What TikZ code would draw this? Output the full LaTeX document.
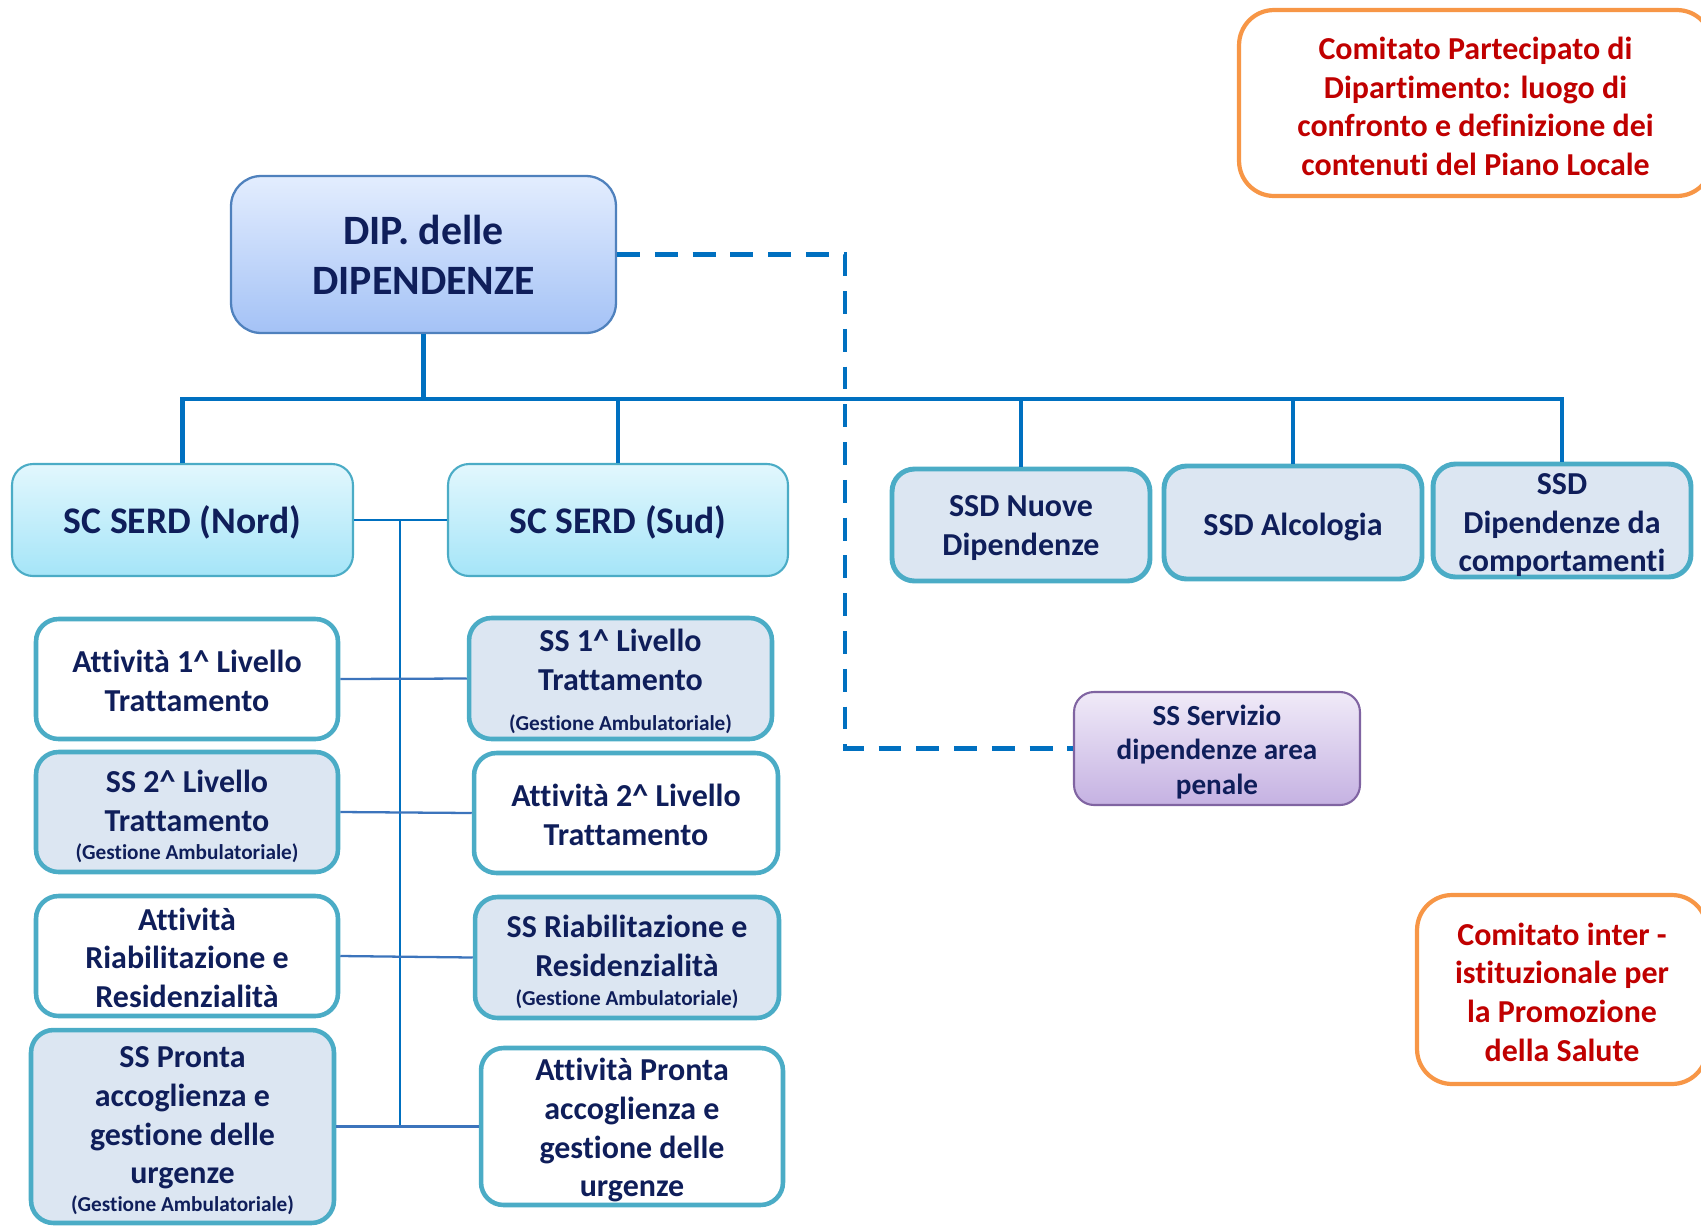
\documentclass[tikz,border=0pt]{standalone}
\usepackage{fontspec}
\setmainfont{Carlito}[Ligatures=NoCommon]
\usetikzlibrary{calc}

\definecolor{navy}{HTML}{0F1E5A}
\definecolor{darkred}{HTML}{C00000}
\definecolor{aqua}{HTML}{4BACC6}
\definecolor{ssfill}{HTML}{DCE6F2}
\definecolor{dipedge}{HTML}{4F81BD}
\definecolor{diptop}{HTML}{E3EDFE}
\definecolor{dipbot}{HTML}{A4C2F6}
\definecolor{serdtop}{HTML}{E2F7FD}
\definecolor{serdbot}{HTML}{A5E5F8}
\definecolor{pentop}{HTML}{F0EAF8}
\definecolor{penbot}{HTML}{C5B2E2}
\definecolor{penedge}{HTML}{8064A2}
\definecolor{orng}{HTML}{F79646}
\definecolor{trunkblue}{HTML}{0070C0}
\definecolor{linkblue}{HTML}{3C74BC}

\newcommand\fsz[2]{\fontsize{#1}{#2}\selectfont}
\newcommand\gestamb{{\fsz{12.1}{14}(Gestione Ambulatoriale)}}

\tikzset{
  every node/.style={align=center, inner sep=0pt, text=navy, font=\bfseries},
  % box shapes
  dipbox/.style={draw=dipedge, line width=1.3pt, rounded corners=0.6cm,
    top color=diptop, bottom color=dipbot},
  serdbox/.style={draw=aqua, line width=1.2pt, rounded corners=0.42cm,
    top color=serdtop, bottom color=serdbot},
  actbox/.style={draw=aqua, line width=2.6pt, rounded corners=0.45cm, fill=white},
  ssbox/.style={actbox, fill=ssfill},
  ssdbox/.style={draw=aqua, line width=2.8pt, rounded corners=0.45cm, fill=ssfill},
  penbox/.style={draw=penedge, line width=1.2pt, rounded corners=0.4cm,
    top color=pentop, bottom color=penbot},
  combox/.style={draw=orng, line width=2.4pt, rounded corners=0.7cm, fill=white},
  % box labels
  diptxt/.style={font=\bfseries\fsz{23.8}{28.3}},
  serdtxt/.style={font=\bfseries\fsz{21.4}{25}},
  acttxt/.style={font=\bfseries\fsz{18.2}{22}},
  ssdtxt/.style={font=\bfseries\fsz{18.2}{22}},
  pentxt/.style={font=\bfseries\fsz{16.6}{19.8}},
  comtxt/.style={text=darkred, font=\bfseries\fsz{18.2}{22}},
  % connectors
  trunk/.style={draw=trunkblue, line width=2.6pt},
  bus/.style={draw=trunkblue, line width=1.4pt},
  link/.style={draw=linkblue, line width=1.3pt},
  dashlink/.style={draw=trunkblue, line width=2.8pt, dash pattern=on 13pt off 8.5pt}
}

\begin{document}
\begin{tikzpicture}[x=0.02cm, y=-0.02cm]
  \useasboundingbox (0,0) rectangle (1701,1225);
  \clip (0,0) rectangle (1701,1225);

  % department head
  \node[dipbox, minimum width=7.7cm, minimum height=3.14cm] (dip) at (423.5,254.5) {};
  \node[diptxt] (dipt) at (dip.center) {DIP. delle\\DIPENDENZE};

  % complex structures
  \node[serdbox, minimum width=6.82cm, minimum height=2.24cm] (nord) at (182.5,520) {};
  \node[serdtxt] (nordt) at ([yshift=-1.2pt]nord.center) {SC SERD (Nord)};
  \node[serdbox, minimum width=6.8cm, minimum height=2.24cm] (sud) at (618,520) {};
  \node[serdtxt] (sudt) at ([yshift=-1.2pt]sud.center) {SC SERD (Sud)};

  % departmental simple structures
  \node[ssdbox, minimum width=5.16cm, minimum height=2.24cm] (ssd1) at (1021,525) {};
  \node[ssdtxt] (ssd1t) at ([yshift=-1.9pt]ssd1.center) {SSD Nuove\\Dipendenze};
  \node[ssdbox, minimum width=5.16cm, minimum height=2.26cm] (ssd2) at (1293,522.5) {};
  \node[ssdtxt] (ssd2t) at ([yshift=-2.4pt]ssd2.center) {SSD Alcologia};
  \node[ssdbox, minimum width=5.16cm, minimum height=2.26cm] (ssd3) at (1562,520.5) {};
  \node[ssdtxt] (ssd3t) at ([yshift=-2.6pt]ssd3.center) {SSD\\Dipendenze da\\comportamenti};

  % left column
  \node[actbox, minimum width=6.04cm, minimum height=2.4cm] (l1) at (187,679) {};
  \node[acttxt] (l1t) at ([yshift=-1pt]l1.center) {Attività 1\textasciicircum{} Livello\\Trattamento};
  \node[ssbox, minimum width=6.04cm, minimum height=2.4cm] (l2) at (187,812) {};
  \node[acttxt] (l2t) at ([yshift=-2.5pt]l2.center)
    {SS 2\textasciicircum{} Livello\\Trattamento\\[-6.2pt]\gestamb};
  \node[actbox, minimum width=6.04cm, minimum height=2.4cm] (l3) at (187,956) {};
  \node[acttxt] (l3t) at ([yshift=-1pt]l3.center) {Attività\\Riabilitazione e\\Residenzialità};
  \node[ssbox, minimum width=6.06cm, minimum height=3.86cm] (l4) at (182.5,1126.5) {};
  \node[acttxt] (l4t) at ([yshift=-2.5pt]l4.center)
    {SS Pronta\\accoglienza e\\gestione delle\\urgenze\\[-6pt]\gestamb};

  % right column
  \node[ssbox, minimum width=6.06cm, minimum height=2.42cm] (r1) at (620.5,678.5) {};
  \node[acttxt] (r1t) at ([yshift=-1.6pt]r1.center)
    {SS 1\textasciicircum{} Livello\\Trattamento\\[1pt]\gestamb};
  \node[actbox, minimum width=6.08cm, minimum height=2.4cm] (r2) at (626,813) {};
  \node[acttxt] (r2t) at ([yshift=-1pt]r2.center) {Attività 2\textasciicircum{} Livello\\Trattamento};
  \node[ssbox, minimum width=6.08cm, minimum height=2.42cm] (r3) at (627,957.5) {};
  \node[acttxt] (r3t) at ([yshift=-2.5pt]r3.center)
    {SS Riabilitazione e\\Residenzialità\\[-5.5pt]\gestamb};
  \node[actbox, minimum width=6.04cm, minimum height=3.14cm] (r4) at (632,1126.5) {};
  \node[acttxt] (r4t) at ([yshift=-2.2pt]r4.center)
    {Attività Pronta\\accoglienza e\\gestione delle\\urgenze};

  % penal area service
  \node[penbox, minimum width=5.72cm, minimum height=2.26cm] (pen) at (1217,748.5) {};
  \node[pentxt] (pent) at ([yshift=-1.9pt]pen.center) {SS Servizio\\dipendenze area\\penale};

  % committees
  \node[combox, minimum width=9.46cm, minimum height=3.72cm] (com1) at (1475.5,103) {};
  \node[comtxt] (com1t) at ([yshift=-1.9pt]com1.center)
    {Comitato Partecipato di\\Dipartimento: luogo di\\confronto e definizione dei\\contenuti del Piano Locale};
  \node[combox, minimum width=5.8cm, minimum height=3.78cm] (com2) at (1562,989.5) {};
  \node[comtxt] (com2t) at ([yshift=-1.5pt]com2.center)
    {Comitato inter -\\istituzionale per\\la Promozione\\della Salute};

  % hierarchy lines
  \coordinate (bar) at (0,399);
  \coordinate (bus) at (400,520);
  \coordinate (dcol) at (845,0);

  \draw[trunk] (dip.south) -- (dip.south |- bar);
  \draw[trunk] (nord.north) -- (nord.north |- bar) -- (ssd3.north |- bar) -- (ssd3.north);
  \draw[trunk] (sud.north |- bar) -- (sud.north);
  \draw[trunk] (ssd1.north |- bar) -- (ssd1.north);
  \draw[trunk] (ssd2.north |- bar) -- (ssd2.north);

  % SERD bus and activity links
  \draw[bus] (nord.east) -- (sud.west);
  \draw[bus] (bus) -- (bus |- l4.east);
  \draw[link] (l1.east) -- (r1.west);
  \draw[link] (l2.east) -- (r2.west);
  \draw[link] (l3.east) -- (r3.west);
  \draw[link] (l4.east) -- (r4.west);

  % functional link to the penal area service
  \draw[dashlink] (dip.east) -- (dip.east -| dcol) -- (dcol |- pen.west) -- (pen.west);
\end{tikzpicture}
\end{document}
